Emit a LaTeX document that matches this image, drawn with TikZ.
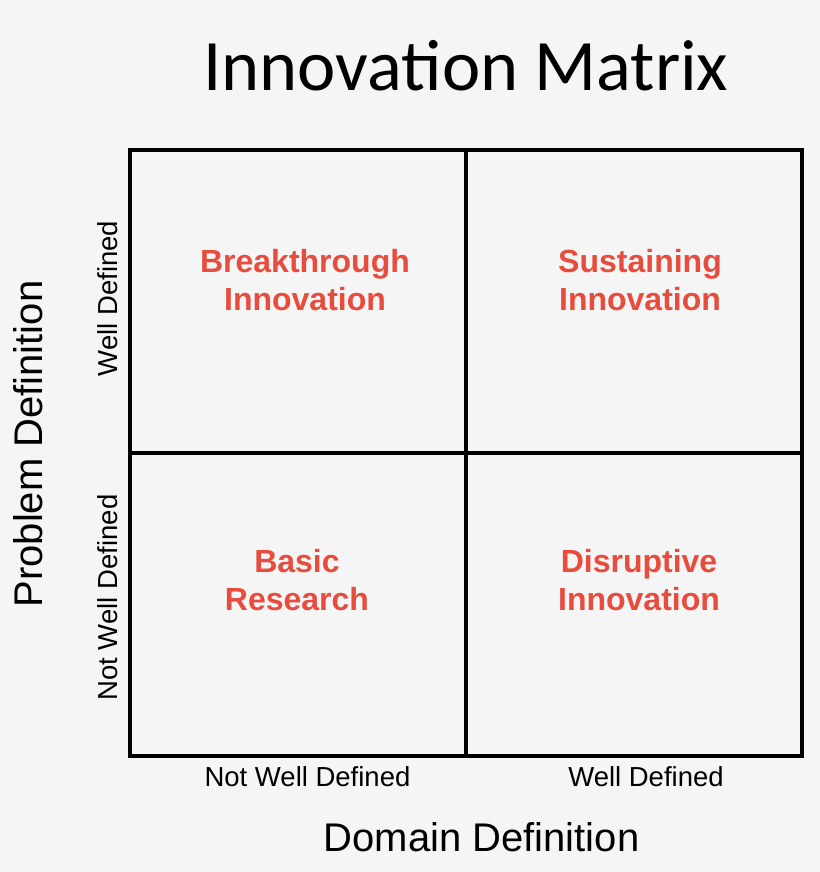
\documentclass[tikz,border=0pt]{standalone}
\usepackage{fontspec}
\setmainfont{Liberation Sans}
\newfontfamily\titlefont{Carlito}
\usepackage{tikz}
\usetikzlibrary{positioning}
\definecolor{pagebg}{RGB}{245,245,245}
\definecolor{quadred}{RGB}{232,76,61}

\begin{document}
\begin{tikzpicture}[x=1bp,y=-1bp]
\tikzset{quadrant/.style={align=center, anchor=base, text=quadred, font=\bfseries\fontsize{32bp}{38bp}\selectfont}}
\tikzset{ticklabel/.style={anchor=base, font=\fontsize{27.5bp}{32bp}\selectfont}}
\tikzset{axislabel/.style={anchor=base, font=\fontsize{40bp}{46bp}\selectfont}}
\tikzset{gridline/.style={line width=4bp, line cap=rect}}
\fill[pagebg] (0,0) rectangle (820,872);
\useasboundingbox (0,0) rectangle (820,872);
% grid corners
\coordinate (nw) at (130,150);
\coordinate (se) at (802,756);
\coordinate (midx) at (466,453);
% shadow, then the grid
\begin{scope}[shift={(1.5,1.5)}]
\draw[gridline, black!25] (nw) rectangle (se);
\draw[gridline, black!25] (nw -| midx) -- (se -| midx);
\draw[gridline, black!25] (nw |- midx) -- (se |- midx);
\end{scope}
\draw[gridline] (nw) rectangle (se);
\draw[gridline] (nw -| midx) -- (se -| midx);
\draw[gridline] (nw |- midx) -- (se |- midx);
\node[anchor=base, font=\titlefont\fontsize{72.5bp}{80bp}\selectfont] (title) at (466,90) {Innovation Matrix};
% base of a two-line node is its last line
\node[quadrant] (breakthrough) at (305,310) {Breakthrough\\Innovation};
\node[quadrant] (sustaining) at (640,310) {Sustaining\\Innovation};
\node[quadrant] (basic) at (297,610) {Basic\\Research};
\node[quadrant] (disruptive) at (639,610) {Disruptive\\Innovation};
\node[ticklabel] (domainlow) at (307.5,786) {Not Well Defined};
\node[ticklabel] (domainhigh) at (646,786) {Well Defined};
\node[ticklabel, rotate=90] (problemhigh) at (117,298.5) {Well Defined};
\node[ticklabel, rotate=90] (problemlow) at (117,597.5) {Not Well Defined};
\node[axislabel] (domain) at (481.5,851) {Domain Definition};
\node[axislabel, rotate=90] (problem) at (42,444) {Problem Definition};
\end{tikzpicture}
\end{document}
